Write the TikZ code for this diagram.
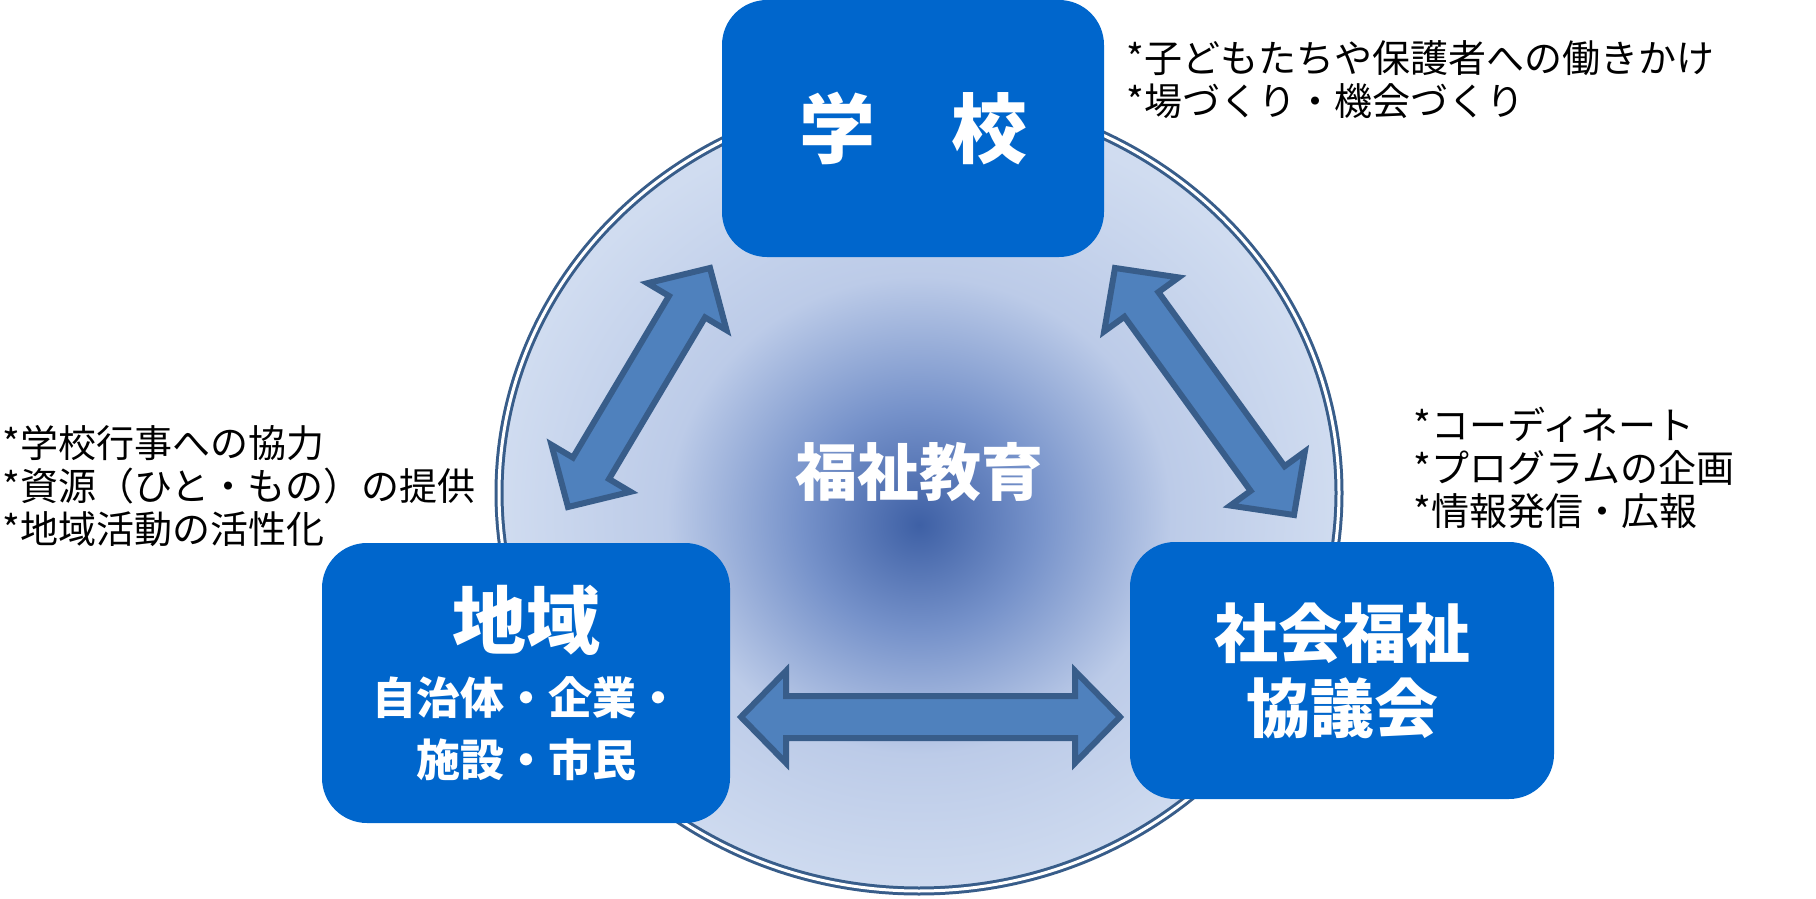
\documentclass[tikz,border=0pt]{standalone}
\usepackage{fontspec}
\setmainfont{Noto Sans CJK JP}
\usetikzlibrary{calc}
\definecolor{boxblue}{RGB}{0,102,204}
\definecolor{arrowfill}{RGB}{79,129,189}
\definecolor{arrowline}{RGB}{56,93,138}
\definecolor{ringline}{RGB}{56,93,138}
\definecolor{wcenter}{RGB}{62,96,165}
\definecolor{wmid}{RGB}{118,146,202}
\definecolor{wlight}{RGB}{188,203,232}
\definecolor{wedge}{RGB}{208,220,240}
\pgfdeclareradialshading{welfareglow}{\pgfpoint{0bp}{-2bp}}{color(0bp)=(wcenter); color(7bp)=(wmid); color(15bp)=(wlight); color(25bp)=(wedge); color(50bp)=(wedge)}

\tikzset{
  orgbox/.style={fill=boxblue, rounded corners=22.5pt, text=white, align=center, inner sep=0pt},
  bigarrow/.style={fill=arrowfill, draw=arrowline, line width=3pt},
  note/.style={align=left, anchor=west, inner sep=0pt, font=\fontsize{19pt}{21.5pt}\selectfont},
}

% block arrow with a head at both ends
\newcommand{\twowayarrow}[2]{%
  \coordinate (s1) at ($(#1)!22.5pt!(#2)$);
  \coordinate (s2) at ($(#2)!22.5pt!(#1)$);
  \filldraw[bigarrow] (#1) -- ($(s1)!23pt!90:(#2)$) -- ($(s1)!10.5pt!90:(#2)$)
    -- ($(s2)!10.5pt!-90:(#1)$) -- ($(s2)!23pt!-90:(#1)$) -- (#2)
    -- ($(s2)!23pt!90:(#1)$) -- ($(s2)!10.5pt!90:(#1)$)
    -- ($(s1)!10.5pt!-90:(#2)$) -- ($(s1)!23pt!-90:(#2)$) -- cycle;
}

\begin{document}
\begin{tikzpicture}[x=0.5pt, y=-0.5pt]
  \useasboundingbox (0,0) rectangle (1816,899);

  % ring
  \fill[shading=welfareglow] (919,493) ellipse [x radius=420, y radius=398];
  \draw[ringline, line width=1.5pt, double=white, double distance=1.5pt] (919,493) ellipse [x radius=420, y radius=398];

  % the three partners
  \node[orgbox, minimum width=191pt, minimum height=128.5pt, font=\bfseries\fontsize{38pt}{40pt}\selectfont] (school) at (913,128.5) {学　校};
  \node[orgbox, minimum width=204pt, minimum height=140pt, font=\bfseries\fontsize{22pt}{31pt}\selectfont] (region) at (526,683)
    {{\fontsize{37pt}{40pt}\selectfont 地域}\\[2pt] 自治体・企業・\\ 施設・市民};
  \node[orgbox, minimum width=212pt, minimum height=128.5pt, font=\bfseries\fontsize{32pt}{37.5pt}\selectfont] (council) at (1342,670.5) {社会福祉\\協議会};

  \node[text=white, font=\bfseries\fontsize{31pt}{33pt}\selectfont] (core) at (919,472) {福祉教育};

  % arrows between partners
  \coordinate (l-lo) at (568,507);
  \coordinate (l-hi) at (710,268);
  \coordinate (r-hi) at (1115,268);
  \coordinate (r-lo) at (1294,515);
  \coordinate (h-l) at (741,717);
  \coordinate (h-r) at (1120,717);
  \twowayarrow{l-lo}{l-hi}
  \twowayarrow{r-hi}{r-lo}
  \twowayarrow{h-l}{h-r}

  % notes
  \node[note] (schoolnote) at (1126,80) {*子どもたちや保護者への働きかけ\\*場づくり・機会づくり};
  \node[note] (regionnote) at (2,486) {*学校行事への協力\\*資源（ひと・もの）の提供\\*地域活動の活性化};
  \node[note] (councilnote) at (1413,468) {*コーディネート\\*プログラムの企画\\*情報発信・広報};
\end{tikzpicture}
\end{document}
